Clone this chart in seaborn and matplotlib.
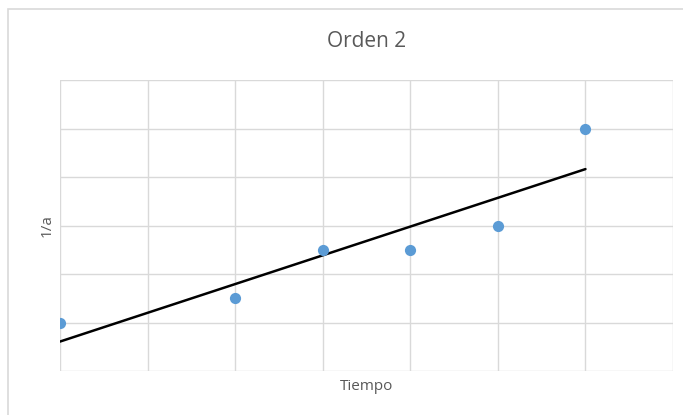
import matplotlib.pyplot as plt
import matplotlib.patches as patches
import pandas as pd
import seaborn as sns

sns.set_theme(style="white")
plt.rcParams['font.family'] = ['Open Sans', 'DejaVu Sans']

tiempo = [0, 2, 3, 4, 5, 6]
inv_a = [1.0, 1.5, 2.5, 2.5, 3.0, 5.0]

df = pd.DataFrame({"Tiempo": tiempo, "1/a": inv_a})

fig = plt.figure(figsize=(6.83, 4.15), dpi=100)
ax = fig.add_axes([0.0878, 0.106, 0.8976, 0.701])

# chart frame
fig.patches.append(patches.Rectangle((8 / 683, -0.05), 1.0, 1 - 9 / 415 + 0.05,
                                     transform=fig.transFigure, fill=False,
                                     edgecolor="#D9D9D9", linewidth=1.2))

sns.regplot(data=df, x="Tiempo", y="1/a", ci=None, ax=ax,
            scatter_kws={"s": 65, "color": "#5B9BD5", "alpha": 1, "zorder": 3, "linewidths": 0},
            line_kws={"color": "black", "linewidth": 1.8, "zorder": 2})

ax.set_xlim(0, 7)
ax.set_ylim(0, 6)
ax.set_xticks(range(0, 8))
ax.set_yticks(range(0, 7))
ax.tick_params(length=0, labelbottom=False, labelleft=False)
ax.grid(True, color="#D9D9D9", linewidth=1)
ax.set_axisbelow(True)
for s in ax.spines.values():
    s.set_visible(False)

ax.set_title("Orden 2", fontsize=15, color="#595959", pad=24)
ax.set_xlabel("Tiempo", fontsize=11, color="#595959", labelpad=6)
ax.set_ylabel("1/a", fontsize=11, color="#595959", labelpad=4)

fig.savefig("out.png", dpi=100)
